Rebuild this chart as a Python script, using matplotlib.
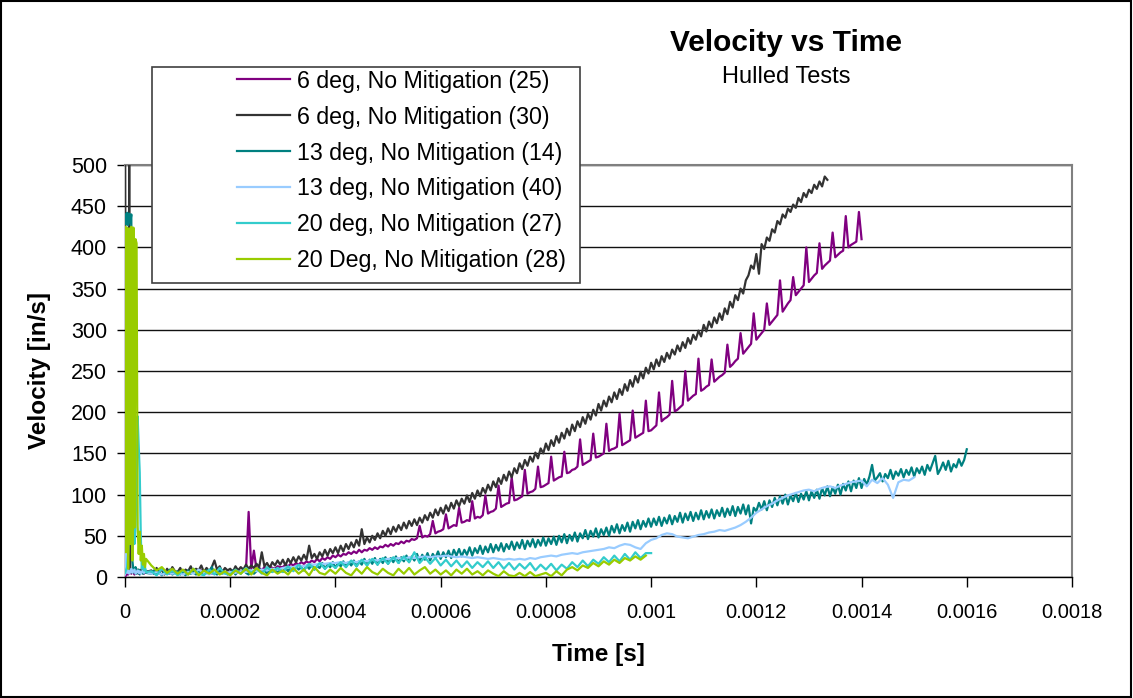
import numpy as np
import matplotlib
matplotlib.use("Agg")
import matplotlib.pyplot as plt
from matplotlib.patches import Rectangle
from matplotlib.lines import Line2D

plt.rcParams['font.family'] = ['Liberation Sans', 'DejaVu Sans']

# fine time grid for the first 40 us (all series), then each series has its own step from 50 us
t_early = np.arange(21) * 2e-6
t_start = 5e-5

labels = ["6 deg, No Mitigation (25)", "6 deg, No Mitigation (30)",
          "13 deg, No Mitigation (14)", "13 deg, No Mitigation (40)",
          "20 deg, No Mitigation (27)", "20 Deg, No Mitigation (28)"]
colors = ["#800080", "#333333", "#008080", "#99ccff", "#33cccc", "#99cc00"]
steps = [5e-6, 5e-6, 5e-6, 1e-5, 1e-5, 1e-5]

# 6 deg (25), 5 us step
v25_early = [0, 2, 4, 3, 5, 6, 4, 7, 5, 3, 6, 8, 5, 4, 7, 6, 5, 8, 4, 6, 7]
v25 = [6, 4, 7, 5, 3, 5, 6, 4, 7, 5,
       6, 4, 5, 7, 6, 5, 7, 4, 6, 8, 5, 7, 6, 4, 7, 5, 8, 6, 5, 7,
       6, 8, 7, 9, 7, 8, 9, 79, 10, 32, 9, 11, 8, 12, 10, 13, 11, 10, 13, 12,
       12, 15, 13, 16, 14, 17, 15, 18, 16, 19, 17, 20, 18, 22, 19, 23, 21, 24, 22, 26,
       24, 27, 25, 28, 27, 30, 28, 31, 29, 33, 30, 33, 32, 35, 33, 36, 34, 37, 36, 39,
       37, 40, 38, 41, 40, 43, 41, 44, 43, 46, 45, 47, 62, 48, 50, 49, 52, 68, 53, 55,
       56, 58, 76, 59, 61, 63, 62, 84, 66, 67, 69, 68, 92, 71, 73, 72, 75, 99, 77, 79,
       80, 83, 111, 85, 87, 89, 90, 121, 93, 94, 96, 98, 130, 101, 103, 104, 107, 134, 109, 110,
       112, 114, 146, 117, 119, 121, 122, 152, 126, 127, 130, 131, 134, 167, 136, 138, 140, 142, 174, 145,
       146, 148, 150, 186, 153, 155, 156, 158, 198, 160, 162, 164, 166, 202, 169, 171, 173, 175, 214, 177,
       178, 181, 184, 224, 189, 192, 194, 197, 238, 201, 203, 206, 209, 250, 214, 217, 220, 222, 265, 226,
       228, 231, 233, 264, 237, 240, 243, 245, 248, 282, 255, 258, 262, 265, 296, 271, 275, 279, 283, 320,
       288, 292, 296, 300, 332, 306, 310, 314, 318, 360, 322, 327, 332, 336, 364, 342, 346, 350, 354, 400,
       358, 362, 366, 369, 405, 374, 378, 381, 384, 418, 388, 391, 394, 396, 438, 400, 403, 405, 407, 443,
       410]

# 6 deg (30), 5 us step
v30_early = [500, 30, 6, 8, 500, 12, 5, 8, 6, 10, 4, 7, 9, 5, 8, 6, 10, 7, 5, 9, 6]
v30 = [8, 4, 11, 6, 9, 3, 10, 5, 12, 7,
       6, 11, 4, 9, 7, 13, 5, 10, 8, 14, 6, 11, 7, 12, 20, 9, 13, 6, 11, 8,
       10, 6, 13, 8, 12, 9, 15, 10, 14, 11, 16, 12, 30, 13, 17, 11, 18, 14, 20, 15,
       21, 14, 22, 17, 24, 18, 25, 20, 27, 21, 38, 23, 28, 22, 30, 25, 33, 26, 34, 29,
       36, 29, 38, 31, 40, 34, 42, 36, 45, 38, 58, 40, 48, 42, 50, 45, 53, 47, 56, 50,
       59, 52, 61, 55, 63, 57, 66, 59, 68, 62, 70, 63, 72, 66, 75, 69, 78, 72, 82, 75,
       84, 77, 87, 80, 90, 83, 93, 86, 95, 89, 99, 91, 102, 95, 105, 98, 108, 102, 112, 105,
       116, 109, 120, 113, 124, 117, 128, 121, 132, 126, 138, 131, 142, 135, 146, 140, 151, 144, 156, 150,
       162, 154, 166, 159, 171, 163, 175, 168, 180, 172, 185, 177, 189, 182, 194, 186, 198, 191, 203, 196,
       210, 202, 214, 207, 219, 212, 224, 216, 228, 221, 234, 226, 239, 231, 244, 236, 249, 241, 254, 247,
       260, 252, 264, 256, 268, 261, 272, 265, 276, 270, 281, 274, 285, 278, 290, 283, 294, 288, 299, 292,
       306, 298, 310, 303, 315, 308, 320, 312, 326, 319, 334, 327, 342, 336, 350, 344, 360, 366, 378, 374,
       392, 368, 404, 398, 412, 408, 422, 418, 432, 428, 440, 436, 447, 443, 452, 448, 460, 455, 466, 461,
       470, 466, 476, 471, 480, 474, 486, 482]

# 13 deg (14), 5 us step
v14_early = [440, 428, 442, 427, 441, 430, 440, 20, 8, 5, 12, 4, 6, 9, 3, 5, 7, 4, 6, 8, 5]
v14 = [4, 8, 3, 6, 2, 7, 4, 9, 3, 5,
       7, 3, 6, 2, 8, 4, 6, 3, 7, 5, 3, 8, 4, 12, 5, 3, 7, 4, 6, 3,
       5, 8, 3, 7, 4, 9, 5, 3, 8, 4, 7, 10, 5, 8, 4, 9, 6, 10, 5, 9,
       6, 11, 7, 12, 8, 13, 9, 12, 8, 14, 10, 15, 9, 13, 11, 17, 10, 15, 12, 18,
       11, 17, 13, 19, 12, 18, 14, 20, 13, 19, 15, 22, 14, 21, 16, 23, 15, 22, 17, 24,
       16, 23, 18, 25, 17, 24, 19, 26, 18, 25, 20, 28, 19, 27, 21, 29, 20, 28, 23, 31,
       22, 30, 24, 32, 23, 33, 26, 34, 25, 33, 27, 36, 26, 35, 29, 38, 28, 37, 30, 40,
       30, 39, 32, 41, 31, 40, 34, 43, 33, 42, 35, 45, 34, 44, 37, 46, 36, 45, 38, 48,
       38, 47, 40, 49, 39, 50, 42, 52, 41, 51, 44, 54, 43, 53, 47, 57, 46, 56, 49, 59,
       48, 58, 51, 60, 50, 62, 54, 64, 53, 63, 56, 66, 55, 67, 59, 69, 58, 68, 61, 71,
       61, 71, 63, 73, 62, 72, 65, 75, 64, 74, 67, 78, 66, 77, 69, 79, 68, 78, 70, 81,
       70, 80, 72, 82, 71, 81, 74, 84, 73, 83, 75, 86, 74, 85, 77, 88, 76, 87, 65, 84,
       80, 90, 82, 92, 81, 93, 85, 96, 87, 98, 89, 100, 88, 99, 92, 102, 91, 101, 94, 104,
       93, 104, 96, 106, 95, 108, 99, 110, 98, 109, 101, 112, 100, 113, 105, 116, 104, 117, 108, 120,
       108, 119, 112, 122, 136, 117, 121, 126, 116, 125, 120, 130, 119, 128, 123, 131, 121, 130, 124, 133,
       122, 132, 126, 134, 124, 136, 129, 138, 147, 125, 131, 139, 130, 141, 128, 137, 133, 143, 135, 142,
       155]

# 13 deg (40), 10 us step
v40_early = [3, 170, 5, 8, 4, 6, 10, 5, 7, 9, 4, 6, 8, 5, 7, 4, 6, 8, 5, 7, 6]
v40 = [4, 6, 3, 5, 4,
       5, 3, 6, 4, 9, 5, 3, 6, 4, 5,
       6, 5, 7, 6, 8, 7, 9, 8, 10, 9,
       11, 12, 12, 14, 13, 15, 15, 16, 16, 17,
       17, 18, 17, 19, 18, 20, 19, 21, 20, 21,
       22, 22, 23, 22, 24, 23, 24, 25, 24, 25,
       25, 26, 25, 24, 25, 24, 23, 24, 23, 22,
       23, 22, 21, 22, 21, 22, 21, 23, 22, 24,
       25, 26, 25, 27, 28, 29, 28, 30, 31, 32,
       33, 34, 36, 35, 38, 40, 39, 36, 34, 41,
       45, 47, 51, 53, 52, 49, 48, 47, 49, 51,
       52, 54, 55, 57, 56, 58, 60, 63, 67, 72,
       78, 82, 86, 89, 93, 96, 99, 101, 103, 105,
       106, 104, 107, 109, 110, 108, 111, 113, 115, 116,
       117, 110, 118, 114, 120, 112, 96, 115, 118, 117,
       121]

# 20 deg (27), 10 us step
v27_early = [5, 8, 12, 30, 60, 150, 300, 372, 80, 40, 60, 120, 195, 160, 127, 50, 10, 25, 8, 12, 6]
v27 = [7, 2, 10, 3, 8,
       2, 8, 3, 10, 4, 2, 9, 3, 11, 4,
       3, 9, 4, 11, 5, 10, 4, 12, 6, 11,
       6, 13, 7, 15, 8, 16, 9, 17, 10, 16,
       11, 18, 12, 20, 13, 21, 14, 22, 15, 23,
       16, 24, 17, 25, 18, 30, 17, 24, 16, 23,
       14, 21, 13, 20, 12, 19, 11, 18, 12, 19,
       11, 18, 10, 17, 9, 16, 10, 17, 8, 15,
       9, 16, 8, 15, 10, 18, 12, 20, 13, 21,
       16, 24, 18, 26, 19, 28, 21, 30, 23, 29,
       29]

# 20 deg (28), 10 us step
v28_early = [425, 30, 424, 10, 423, 40, 425, 20, 424, 60, 410, 405, 62, 28, 55, 20, 38, 15, 28, 12, 22]
v28 = [14, 8, 12, 5, 10,
       4, 9, 3, 10, 2, 8, 4, 9, 3, 7,
       2, 8, 4, 10, 3, 11, 5, 2, 9, 4,
       8, 3, 11, 4, 9, 2, 12, 5, 3, 9,
       4, 11, 5, 2, 10, 4, 12, 6, 3, 10,
       5, 2, 10, 4, 11, 3, 8, 12, 4, 9,
       3, 8, 2, 9, 4, 10, 3, 7, 2, 8,
       4, 1, 7, 2, 1, 5, 1, 6, 1, 3,
       5, 1, 7, 2, 9, 12, 8, 14, 11, 17,
       13, 19, 15, 21, 17, 23, 20, 25, 21, 26]

y_ticks = [0, 50, 100, 150, 200, 250, 300, 350, 400, 450, 500]
x_ticks = [0, 0.0002, 0.0004, 0.0006, 0.0008, 0.001, 0.0012, 0.0014, 0.0016, 0.0018]
x_tick_labels = ["0", "0.0002", "0.0004", "0.0006", "0.0008", "0.001",
                 "0.0012", "0.0014", "0.0016", "0.0018"]

series = [(v25_early, v25), (v30_early, v30), (v14_early, v14),
          (v40_early, v40), (v27_early, v27), (v28_early, v28)]

fig = plt.figure(figsize=(11.33, 6.98), dpi=100)
ax = fig.add_axes([125/1133, 121/698, 947/1133, 412/698])

for (early, main), c, dt in zip(series, colors, steps):
    t = np.concatenate([t_early, t_start + np.arange(len(main)) * dt])
    v = np.concatenate([early, main])
    ax.plot(t, v, color=c, lw=1.6, zorder=3)

ax.set_xlim(0, 0.0018)
ax.set_ylim(0, 500)
ax.set_yticks(y_ticks)
ax.set_xticks(x_ticks)
ax.set_xticklabels(x_tick_labels)
ax.tick_params(axis='y', labelsize=15.5, length=6, width=1, direction='out', pad=7)
ax.tick_params(axis='x', labelsize=14.5, length=7, width=1, direction='out', pad=12)
ax.yaxis.grid(True, color='#111111', lw=1.0, zorder=0)
ax.set_axisbelow(True)
for s in ['top', 'right']:
    ax.spines[s].set_color('#808080')
    ax.spines[s].set_linewidth(1.5)
for s in ['left', 'bottom']:
    ax.spines[s].set_color('black')
    ax.spines[s].set_linewidth(1.0)

fig.text(40/1133, 1 - 370/698, "Velocity [in/s]", fontsize=17.5, fontweight='bold',
         rotation=90, ha='center', va='center')
fig.text(598/1133, 1 - 655/698, "Time [s]", fontsize=17.5, fontweight='bold',
         ha='center', va='center')

fig.text(786/1133, 1 - 43/698, "Velocity vs Time", fontsize=21.5, fontweight='bold',
         ha='center', va='center')
fig.text(786/1133, 1 - 77/698, "Hulled Tests", fontsize=17, ha='center', va='center')

# legend box, drawn over the grid
ax.add_patch(Rectangle((152/1133, 1 - 283/698), 428/1133, 216/698,
                       transform=fig.transFigure, facecolor='white',
                       edgecolor='#404040', lw=1.2, zorder=10, clip_on=False))
handles = [Line2D([], [], color=c, lw=1.6) for c in colors]
fig.legend(handles, labels, loc='center left', bbox_to_anchor=(237/1133, 1 - 171/698),
           frameon=False, fontsize=16.7, handlelength=2.3, handletextpad=0.3,
           labelspacing=0.56, borderpad=0, borderaxespad=0)

# outer border
fig.add_artist(Rectangle((0.0005, 0.001), 0.998, 0.997, transform=fig.transFigure,
                         fill=False, edgecolor='black', lw=1.5))

fig.savefig("out.png", dpi=100)
